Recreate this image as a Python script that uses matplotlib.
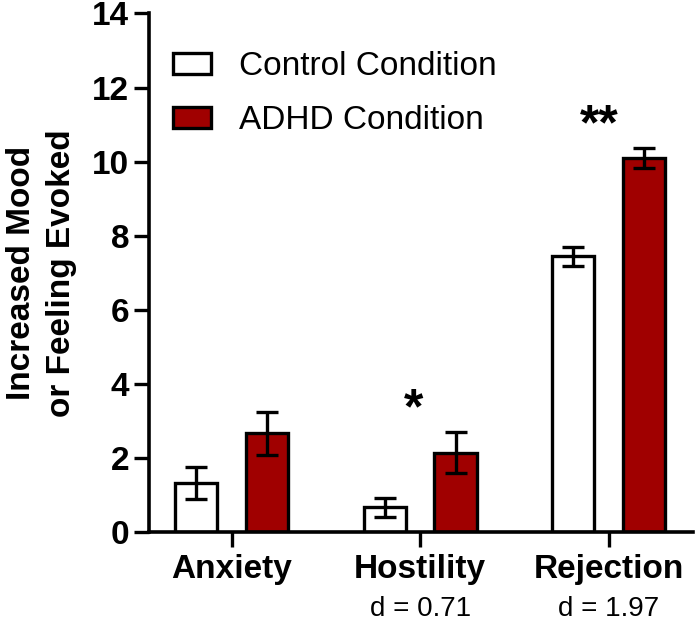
import numpy as np
import matplotlib.pyplot as plt
from matplotlib.transforms import blended_transform_factory

plt.rcParams['font.family'] = ['Liberation Sans', 'DejaVu Sans']

# dane
kategorie = ['Anxiety', 'Hostility', 'Rejection']
efekt_d = ['', 'd = 0.71', 'd = 1.97']
kontrola = [1.33, 0.67, 7.45]
kontrola_err = [0.42, 0.25, 0.26]
adhd = [2.67, 2.15, 10.1]
adhd_err = [0.58, 0.55, 0.27]
gwiazdki = ['', '*', '**']
gwiazdki_x = [0, 0.965, 1.95]
gwiazdki_y = [0, 3.3, 10.95]

czerwony = '#a00000'
szer = 0.225
przes = 0.188

fig = plt.figure(figsize=(6.99, 6.24), dpi=100)
ax = fig.add_axes([0.2136, 0.147, 0.7778, 0.8314])

x = np.arange(len(kategorie))
blad = dict(ecolor='black', elinewidth=2.4, capsize=8, capthick=2.4)
ax.bar(x - przes, kontrola, szer, yerr=kontrola_err, color='white',
       edgecolor='black', linewidth=2.4, error_kw=blad, label='Control Condition')
ax.bar(x + przes, adhd, szer, yerr=adhd_err, color=czerwony,
       edgecolor='black', linewidth=2.4, error_kw=blad, label='ADHD Condition')

ax.set_xlim(-0.437, 2.447)
ax.set_ylim(0, 14)
ax.set_yticks(np.arange(0, 15, 2))
ax.set_xticks(x)
ax.set_xticklabels(kategorie, fontsize=24, fontweight='bold')
ax.tick_params(axis='both', width=2.4, length=11, labelsize=24)
ax.tick_params(axis='x', pad=5)
for lab in ax.get_yticklabels():
    lab.set_fontweight('bold')

for s in ['top', 'right']:
    ax.spines[s].set_visible(False)
for s in ['left', 'bottom']:
    ax.spines[s].set_linewidth(2.6)

ax.set_ylabel('Increased Mood\nor Feeling Evoked', fontsize=24,
              fontweight='bold', linespacing=1.36, labelpad=11)

tr = blended_transform_factory(ax.transData, ax.transAxes)
for i, d in enumerate(efekt_d):
    if d:
        ax.text(i, -0.148, d, transform=tr, ha='center', va='center', fontsize=20)
    if gwiazdki[i]:
        ax.text(gwiazdki_x[i], gwiazdki_y[i], gwiazdki[i],
                ha='center', va='center', fontsize=36, fontweight='bold')

leg = ax.legend(loc='upper left', bbox_to_anchor=(-0.012, 0.985), frameon=False,
                fontsize=24, handlelength=1.15, handleheight=0.6,
                labelspacing=0.68, handletextpad=0.85)

fig.savefig('out.png', dpi=100)
